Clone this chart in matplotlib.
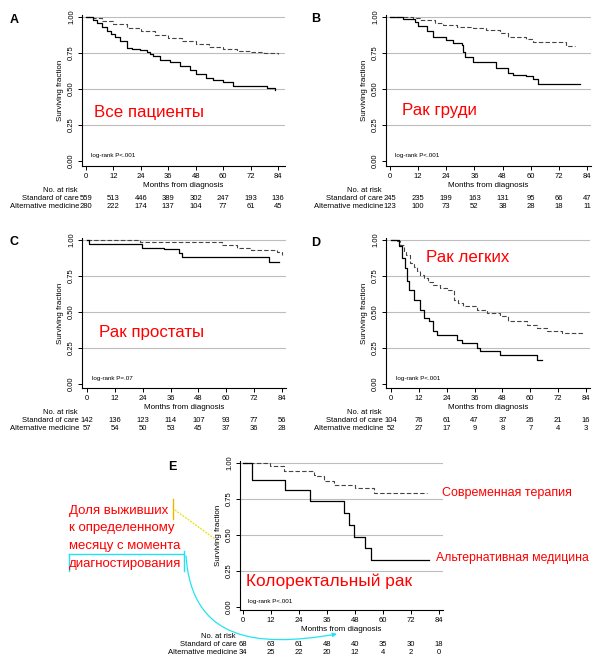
import matplotlib
matplotlib.use("Agg")
import matplotlib.pyplot as plt
from matplotlib.transforms import blended_transform_factory
from matplotlib.path import Path
from matplotlib.patches import FancyArrowPatch
from matplotlib.lines import Line2D

plt.rcParams['font.family'] = ['Liberation Sans', 'DejaVu Sans']

W, H = 600, 667

months = [0, 12, 24, 36, 48, 60, 72, 84]
yticks = [0.0, 0.25, 0.5, 0.75, 1.0]
ytick_labels = ["0.00", "0.25", "0.50", "0.75", "1.00"]

# ---- Panel A: all patients
A_std_t = [0, 3, 7, 12, 18, 24, 30, 36, 42, 48, 54, 60, 66, 72, 78, 84]
A_std_s = [1, 0.99, 0.97, 0.95, 0.925, 0.90, 0.875, 0.855, 0.835, 0.81, 0.79, 0.775, 0.765, 0.755, 0.75, 0.74]
A_alt_t = [0, 3, 4.7, 7, 9, 11, 12.7, 15, 17.8, 20, 23.6, 26.5, 28, 29.4, 32.3, 36.7, 41, 45.4, 48.3,
           52.7, 55.6, 60, 64.3, 72, 79, 82.5]
A_alt_s = [1, 0.98, 0.955, 0.93, 0.90, 0.88, 0.86, 0.83, 0.785, 0.775, 0.773, 0.76, 0.74, 0.727, 0.70,
           0.685, 0.657, 0.634, 0.606, 0.576, 0.56, 0.546, 0.523, 0.52, 0.51, 0.495]
A_risk_std = [559, 513, 446, 389, 302, 247, 193, 136]
A_risk_alt = [280, 222, 174, 137, 104, 77, 61, 45]

# ---- Panel B: breast cancer
B_std_t = [0, 10, 13, 15.6, 19, 22.7, 28.4, 35.5, 41, 46.8, 50.4, 58.2, 61, 75, 79]
B_std_s = [1, 0.99, 0.98, 0.977, 0.96, 0.947, 0.93, 0.924, 0.907, 0.889, 0.861, 0.847, 0.824, 0.80, 0.80]
B_alt_t = [0, 5.7, 10.6, 12, 15.6, 18.4, 24, 27, 30.5, 31.2, 31.9, 35.5, 45.4, 50.4, 52.5, 58.2, 61, 63, 81]
B_alt_s = [1, 0.986, 0.963, 0.935, 0.90, 0.861, 0.843, 0.82, 0.808, 0.76, 0.722, 0.685, 0.646, 0.611,
           0.60, 0.593, 0.569, 0.537, 0.537]
B_risk_std = [245, 235, 199, 163, 131, 95, 66, 47]
B_risk_alt = [123, 100, 73, 52, 38, 28, 18, 11]

# ---- Panel C: prostate cancer
C_std_t = [0, 23, 58, 64.8, 70.5, 81.7, 83.8]
C_std_s = [1, 0.986, 0.965, 0.947, 0.931, 0.919, 0.896]
C_alt_t = [0, 0.7, 23.6, 33, 39.5, 41, 78.5, 82.5]
C_alt_s = [1, 0.97, 0.947, 0.94, 0.91, 0.884, 0.847, 0.847]
C_risk_std = [142, 136, 123, 114, 107, 93, 77, 56]
C_risk_alt = [57, 54, 50, 53, 45, 37, 36, 28]

# ---- Panel D: lung cancer
D_std_t = [0, 2.6, 4, 5.4, 6.5, 8.3, 10, 11.2, 12.5, 14, 16, 18.3, 21, 24, 27, 29, 31.2, 37, 41.3, 47,
           50.6, 58.5, 62.8, 67, 73.5, 82.9]
D_std_s = [1, 0.99, 0.968, 0.92, 0.898, 0.84, 0.81, 0.782, 0.76, 0.736, 0.71, 0.69, 0.67, 0.655, 0.586,
           0.56, 0.539, 0.516, 0.493, 0.47, 0.435, 0.412, 0.389, 0.37, 0.354, 0.354]
D_alt_t = [0, 3.3, 4.7, 6.2, 6.9, 7.6, 9.7, 12.6, 14, 16.2, 18.3, 19.8, 28.4, 30.5, 37, 38.4, 47, 62.8, 65]
D_alt_s = [1, 0.956, 0.875, 0.806, 0.713, 0.655, 0.586, 0.516, 0.458, 0.435, 0.366, 0.343, 0.308, 0.285,
           0.25, 0.231, 0.20, 0.17, 0.17]
D_risk_std = [104, 76, 61, 47, 37, 26, 21, 16]
D_risk_alt = [52, 27, 17, 9, 8, 7, 4, 3]

# ---- Panel E: colorectal cancer
E_std_t = [0, 11.7, 17.4, 30.3, 31, 34.6, 38.9, 48, 56, 78.9]
E_std_s = [1, 0.977, 0.947, 0.92, 0.907, 0.872, 0.849, 0.826, 0.79, 0.79]
E_alt_t = [0, 3.9, 18.1, 28.9, 43.3, 45.6, 47.4, 52.4, 54.9, 79.6]
E_alt_s = [1, 0.884, 0.81, 0.733, 0.652, 0.571, 0.485, 0.408, 0.327, 0.327]
E_risk_std = [68, 63, 61, 48, 40, 35, 30, 18]
E_risk_alt = [34, 25, 22, 20, 12, 4, 2, 0]

RED = '#ff0000'

fig = plt.figure(figsize=(6, 6.67), dpi=100)


def fx(x):
    return x / W


def fy(y):
    return 1 - y / H


def panel(left, x0, x84, right, y1, y0, xaxis, std, alt, risk_std, risk_alt,
          lr_text, risk_offsets):
    ppm = (x84 - x0) / 84.0
    ppu = (y0 - y1)
    top = y1 - 2
    ax = fig.add_axes([fx(left), fy(xaxis), (right - left) / W, (xaxis - top) / H])
    ax.set_xlim((left - x0) / ppm, (right - x0) / ppm)
    ax.set_ylim(-(xaxis - y0) / ppu, (y0 - top) / ppu)
    for y in [0.25, 0.5, 0.75, 1.0]:
        ax.axhline(y, color='#bdbdbd', lw=0.8, zorder=0)
    ax.step(std[0], std[1], where='post', color='#444444', lw=0.8, ls=(0, (4, 2)))
    ax.step(alt[0], alt[1], where='post', color='black', lw=0.9)
    for s in ['top', 'right']:
        ax.spines[s].set_visible(False)
    for s in ['left', 'bottom']:
        ax.spines[s].set_linewidth(0.8)
    ax.set_xticks(months)
    ax.set_xticklabels([str(m) for m in months], fontsize=5.5)
    ax.set_yticks(yticks)
    ax.set_yticklabels(ytick_labels, fontsize=5.5, rotation=90, va='center')
    ax.tick_params(axis='both', length=3, width=0.7, pad=2)
    ax.set_xlabel("Months from diagnosis", fontsize=5.8, labelpad=1.5)
    ax.set_ylabel("Surviving fraction", fontsize=5.8, labelpad=3)
    ax.text(2, 0.04, lr_text, fontsize=4.5, va='center', ha='left')
    tr = blended_transform_factory(ax.transData, fig.transFigure)
    fig.text(fx(left - 4), fy(xaxis + risk_offsets[0]), "No. at risk", fontsize=5.5,
             ha='right', va='center')
    fig.text(fx(left - 3), fy(xaxis + risk_offsets[1]), "Standard of care", fontsize=5.5,
             ha='right', va='center')
    fig.text(fx(left - 3), fy(xaxis + risk_offsets[2]), "Alternative medicine", fontsize=5.5,
             ha='right', va='center')
    for m, a, b in zip(months, risk_std, risk_alt):
        ax.text(m, fy(xaxis + risk_offsets[1]), str(a), transform=tr, fontsize=5.5,
                ha='center', va='center')
        ax.text(m, fy(xaxis + risk_offsets[2]), str(b), transform=tr, fontsize=5.5,
                ha='center', va='center')
    return ax


axA = panel(82, 86, 278, 285, 17, 161, 166, (A_std_t, A_std_s), (A_alt_t, A_alt_s),
            A_risk_std, A_risk_alt, "log-rank P<.001", (24, 32, 41))
axB = panel(386, 390, 587, 591, 17, 161, 166, (B_std_t, B_std_s), (B_alt_t, B_alt_s),
            B_risk_std, B_risk_alt, "log-rank P<.001", (24, 32, 41))
axC = panel(82, 87, 282, 286, 240, 384, 388, (C_std_t, C_std_s), (C_alt_t, C_alt_s),
            C_risk_std, C_risk_alt, "log-rank P=.07", (25, 33, 41))
axD = panel(386, 391, 586, 590, 240, 384, 388, (D_std_t, D_std_s), (D_alt_t, D_alt_s),
            D_risk_std, D_risk_alt, "log-rank P<.001", (25, 33, 41))
axE = panel(240, 243, 439, 443, 463, 607, 610, (E_std_t, E_std_s), (E_alt_t, E_alt_s),
            E_risk_std, E_risk_alt, "log-rank P<.001", (26, 35, 43))

# panel letters
for lab, (x, y) in {"A": (14, 20), "B": (316, 19), "C": (14, 242), "D": (316, 243),
                    "E": (172, 467)}.items():
    fig.text(fx(x), fy(y), lab, fontsize=9, fontweight='bold', ha='center', va='center')

# red titles
fig.text(fx(94), fy(113), "Все пациенты", color=RED, fontsize=12.2, ha='left', va='center')
fig.text(fx(402), fy(110), "Рак груди", color=RED, fontsize=12.2, ha='left', va='center')
fig.text(fx(99), fy(332), "Рак простаты", color=RED, fontsize=12.2, ha='left', va='center')
fig.text(fx(426), fy(257), "Рак легких", color=RED, fontsize=12.2, ha='left', va='center')
fig.text(fx(246), fy(581), "Колоректальный рак", color=RED, fontsize=12.4, ha='left', va='center')
fig.text(fx(442), fy(493), "Современная терапия", color=RED, fontsize=9, ha='left', va='center')
fig.text(fx(436), fy(558), "Альтернативная медицина", color=RED, fontsize=8.8, ha='left', va='center')

ann_lines = ["Доля выживших", "к определенному", "месяцу с момента", "диагностирования"]
for i, line in enumerate(ann_lines):
    fig.text(fx(69), fy(511 + i * 17.5), line, color=RED, fontsize=9.5, ha='left', va='center')

# yellow marker and connector
fig.add_artist(Line2D([fx(173), fx(173)], [fy(499), fy(519)], color='#f0b400', lw=1.0,
                      transform=fig.transFigure))
fig.add_artist(Line2D([fx(175), fx(215)], [fy(510), fy(539)], color='#e8e000', lw=0.9,
                      ls=(0, (1.5, 1)), transform=fig.transFigure))

# cyan bracket and curved arrow
CY = '#22e4f0'
fig.add_artist(Line2D([fx(69), fx(184)], [fy(554), fy(554)], color=CY, lw=1.0,
                      transform=fig.transFigure))
fig.add_artist(Line2D([fx(69), fx(69)], [fy(554), fy(571)], color=CY, lw=1.0,
                      transform=fig.transFigure))
fig.add_artist(Line2D([fx(184), fx(184)], [fy(551), fy(571)], color=CY, lw=1.0,
                      transform=fig.transFigure))
path = Path([(fx(186), fy(556)), (fx(192), fy(640)), (fx(255), fy(648)), (fx(337), fy(634))],
            [Path.MOVETO, Path.CURVE4, Path.CURVE4, Path.CURVE4])
arrow = FancyArrowPatch(path=path, arrowstyle='-|>', mutation_scale=6, color=CY, lw=0.9,
                        transform=fig.transFigure)
fig.add_artist(arrow)

fig.savefig("out.png", dpi=100)
